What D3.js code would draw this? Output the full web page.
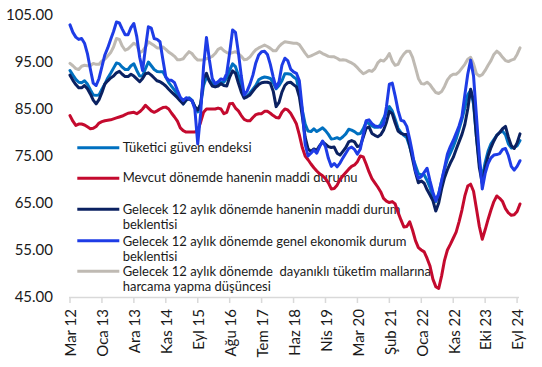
<!DOCTYPE html>
<html>
<head>
<meta charset="utf-8">
<script src="https://cdn.jsdelivr.net/npm/d3@7"></script>
<style>
  html, body { margin: 0; padding: 0; background: #fff; }
  svg { display: block; }
  text { font-family: Lato, "Open Sans", sans-serif; }
</style>
</head>
<body>
<svg id="chart" width="542" height="367"></svg>
<script>
// ---- data ----
const tickLabels = ["Mar 12","Oca 13","Ara 13","Kas 14","Eyl 15","Ağu 16","Tem 17","Haz 18","Nis 19","Mar 20","Şub 21","Oca 22","Kas 22","Eki 23","Eyl 24"];
const yTicks = [105, 95, 85, 75, 65, 55, 45];

const seriesNames = [
  ["Tüketici güven endeksi"],
  ["Mevcut dönemde hanenin maddi durumu"],
  ["Gelecek 12 aylık dönemde hanenin maddi durum", "beklentisi"],
  ["Gelecek 12 aylık dönemde genel ekonomik durum", "beklentisi"],
  ["Gelecek 12 aylık dönemde  dayanıklı tüketim mallarına", "harcama yapma düşüncesi"]
];
const seriesColors = ["#0070C0", "#C40A2E", "#0B2161", "#1E3CE6", "#BFBAB3"];

const tuketici = [
93.2,92.2,91.3,90.7,90.6,91.0,90.3,89.1,88.0,87.9,
88.0,89.2,90.3,91.6,92.6,93.7,94.8,94.6,93.9,93.4,
93.4,94.2,94.6,93.2,92.0,92.0,93.6,95.0,94.2,93.4,
93.0,92.9,92.9,91.8,90.6,89.8,89.0,88.1,87.2,86.1,
86.8,87.4,86.9,85.5,84.4,86.0,90.0,91.8,91.1,90.5,
90.0,90.4,90.7,90.7,91.6,93.3,94.6,94.0,92.2,89.7,
87.4,87.8,88.4,89.2,90.0,91.2,91.6,91.8,91.7,91.5,
90.6,89.3,90.0,91.0,92.5,92.5,92.4,91.8,91.4,88.5,
84.8,81.8,80.3,80.2,80.8,80.2,80.6,81.0,80.4,79.6,
78.6,78.7,78.9,78.6,79.1,79.7,80.7,80.5,80.2,79.7,
79.8,80.8,82.2,81.9,81.4,81.1,81.1,81.7,83.0,84.2,
85.5,84.6,82.8,80.9,80.0,79.4,78.9,77.0,74.8,73.0,
71.2,71.0,71.0,69.8,68.3,66.5,65.3,67.0,69.6,72.2,
74.3,75.6,77.0,78.6,80.7,82.8,85.3,88.0,89.0,86.0,
79.0,73.5,70.4,73.6,76.0,77.6,78.5,79.4,80.0,80.3,
79.5,77.6,76.7,76.8,77.2,78.3];

const mevcut = [
83.6,82.4,81.5,81.8,81.8,81.6,81.2,80.8,80.9,81.3,
82.0,82.3,82.5,82.6,82.7,82.9,83.1,83.3,83.5,83.8,
84.1,84.2,84.3,84.0,84.4,85.0,85.8,85.2,84.6,84.3,
84.6,85.0,85.3,85.4,85.0,84.1,83.3,82.4,81.0,80.4,
80.1,80.1,80.1,80.1,80.5,82.2,84.3,85.0,85.0,85.0,
85.0,85.2,85.0,84.0,84.3,86.1,86.2,85.2,84.6,83.6,
82.8,82.5,82.5,83.2,83.8,84.0,84.0,84.5,84.5,84.1,
83.6,83.2,83.1,84.3,85.0,84.8,84.1,83.0,81.8,79.5,
76.8,75.0,74.2,73.3,72.5,71.8,71.2,70.8,70.2,69.3,
68.0,68.1,68.8,70.0,70.8,71.5,72.2,72.8,73.1,73.8,
75.0,74.8,73.3,71.6,70.2,69.3,68.4,67.4,66.0,65.4,
65.1,65.3,64.8,63.0,61.4,59.9,60.0,61.0,59.2,57.0,
55.5,55.0,54.6,53.2,51.6,48.8,47.2,46.8,49.5,52.8,
55.0,56.2,57.5,58.8,61.0,63.5,66.5,68.6,69.0,67.5,
63.8,60.0,57.3,59.3,61.5,63.5,65.3,66.5,66.0,65.3,
63.8,62.9,62.4,62.5,63.2,64.8];

const haneBeklenti = [
92.2,91.1,90.2,89.5,89.5,90.0,89.3,88.2,86.9,86.1,
87.0,88.5,90.3,91.0,91.6,92.0,92.7,93.0,92.4,91.9,
91.9,92.4,92.0,91.4,90.8,91.5,92.5,92.7,92.2,91.6,
91.0,90.8,90.4,89.9,89.2,88.6,88.0,87.4,86.7,86.1,
87.0,87.1,86.8,85.5,84.8,86.0,91.5,92.6,90.9,89.9,
89.7,89.9,90.4,90.0,89.9,91.8,93.1,92.6,90.5,88.6,
87.3,87.6,88.0,88.8,89.6,90.2,90.6,90.7,90.7,90.5,
88.8,85.5,86.4,88.6,90.0,90.6,90.7,90.2,89.7,87.6,
83.5,79.0,76.5,76.0,76.5,76.2,77.2,78.0,77.5,77.0,
76.8,76.9,75.6,75.2,76.0,76.8,78.0,78.3,78.0,77.0,
77.2,79.0,80.9,81.2,79.8,79.4,79.1,79.5,80.5,82.2,
84.5,84.0,82.0,80.3,79.8,79.6,79.6,77.3,74.3,71.5,
69.3,69.7,69.2,67.8,66.7,65.5,63.3,65.0,68.0,70.4,
72.1,73.5,74.7,76.4,78.0,79.6,81.7,85.0,89.2,86.8,
79.0,72.5,69.2,72.5,75.0,76.8,78.2,79.4,80.0,80.8,
81.3,79.0,77.2,76.6,77.8,79.7];

const genelBeklenti = [
102.9,101.3,100.3,99.8,100.0,99.0,96.8,93.5,90.5,90.0,
91.5,94.0,96.5,98.0,99.8,101.5,103.5,103.3,102.0,100.8,
100.8,102.3,103.2,100.4,96.0,93.2,98.0,102.5,102.2,100.0,
99.8,99.3,95.5,91.8,91.1,91.1,90.6,89.0,87.5,86.8,
87.4,87.2,86.8,85.0,77.6,84.0,94.0,100.2,95.5,91.5,
90.4,90.8,91.4,91.2,92.6,97.0,101.8,101.3,97.0,92.0,
88.0,88.8,90.3,92.2,94.8,96.5,97.2,97.3,96.6,94.5,
91.8,89.5,90.8,94.3,95.8,95.3,93.5,92.9,92.6,91.0,
85.0,77.5,75.0,75.6,76.3,75.6,77.0,78.2,77.0,74.5,
72.8,73.4,72.7,73.5,74.6,75.6,76.6,76.9,76.4,75.4,
76.5,79.5,82.5,82.7,81.9,81.4,81.3,81.1,81.8,85.5,
90.3,90.5,87.8,84.7,82.6,82.4,81.3,78.6,75.5,71.8,
70.2,70.6,71.5,72.4,69.7,67.3,65.5,66.9,69.8,72.5,
75.4,77.0,78.3,79.8,81.4,83.4,88.0,92.4,95.4,92.0,
83.5,75.0,68.0,71.3,73.4,74.6,75.2,75.3,75.5,76.4,
76.6,75.1,72.8,72.0,72.8,74.0];

const dayanikli = [
94.7,94.2,93.6,93.4,94.1,94.3,94.2,94.2,94.7,94.5,
94.5,95.2,95.6,96.3,97.0,98.2,100.0,99.8,98.4,97.5,
97.8,98.4,99.0,98.6,97.0,97.3,98.2,99.3,98.9,98.5,
98.0,98.0,98.2,97.7,97.1,96.7,96.2,95.5,95.5,95.7,
96.5,97.2,96.8,96.0,95.4,95.4,95.5,95.7,95.9,96.2,
96.8,97.7,98.0,97.4,97.0,96.8,97.0,97.2,96.8,96.2,
95.5,95.6,96.1,96.9,97.6,98.0,98.3,98.6,98.3,97.9,
97.4,97.4,98.3,98.9,99.3,99.2,99.1,99.0,99.0,98.7,
97.8,96.9,96.1,96.3,96.6,96.9,97.2,96.8,96.5,96.2,
96.1,96.1,95.8,95.4,95.5,95.4,95.1,94.8,94.4,93.8,
93.1,92.5,92.8,93.2,93.0,93.6,94.8,95.4,95.2,95.8,
96.8,95.2,94.3,94.5,95.8,96.7,97.3,97.3,96.0,93.8,
91.5,90.4,90.3,90.7,90.2,89.3,88.5,88.3,88.7,89.8,
91.2,92.0,92.4,92.4,92.9,93.7,94.5,95.6,96.0,94.6,
92.5,92.0,92.3,93.2,94.3,95.3,96.6,97.3,96.8,96.0,
95.3,95.1,95.4,95.6,96.6,98.0];

const seriesValues = [tuketici, mevcut, haneBeklenti, genelBeklenti, dayanikli];
const tickEvery = 11;

// ---- layout ----
const svg = d3.select("#chart");
svg.append("rect").attr("width", 542).attr("height", 367).attr("fill", "#fff");

const nPts = tuketici.length;
const x = d3.scaleLinear().domain([0, nPts - 1]).range([70, 520]);
const y = d3.scaleLinear().domain([45, 105]).range([297, 15]);

// y labels
svg.append("g").selectAll("text").data(yTicks).join("text")
  .attr("x", 53).attr("y", d => y(d)).attr("dy", "0.36em")
  .attr("text-anchor", "end")
  .attr("font-size", 15).attr("fill", "#1a1a1a")
  .text(d => d3.format(".2f")(d));

// x axis
const axisY = 297.5;
const xg = svg.append("g");
xg.append("line").attr("x1", 69).attr("x2", 519).attr("y1", axisY).attr("y2", axisY)
  .attr("stroke", "#d9d9d9").attr("stroke-width", 1.5);
const tickIdx = tickLabels.map((_, i) => i * tickEvery);
xg.selectAll("line.tick").data(tickIdx).join("line").attr("class", "tick")
  .attr("x1", d => x(d)).attr("x2", d => x(d))
  .attr("y1", axisY).attr("y2", axisY + 5.5)
  .attr("stroke", "#d9d9d9").attr("stroke-width", 1.5);
xg.selectAll("text").data(tickLabels).join("text")
  .attr("transform", (d, i) => `translate(${x(tickIdx[i])},309) rotate(-90)`)
  .attr("text-anchor", "end").attr("dy", "0.42em")
  .attr("font-size", 15).attr("fill", "#1a1a1a")
  .text(d => d);

// legend (drawn beneath lines)
const legendRows = [
  { line: 147.7, base: [151.6] },
  { line: 178.3, base: [182.4] },
  { line: 209.2, base: [214.0, 229.0] },
  { line: 240.7, base: [245.8, 260.5] },
  { line: 271.2, base: [276.0, 291.2] }
];
const lg = svg.append("g");
seriesNames.forEach((names, i) => {
  lg.append("line").attr("x1", 77.3).attr("x2", 119.3)
    .attr("y1", legendRows[i].line).attr("y2", legendRows[i].line)
    .attr("stroke", seriesColors[i]).attr("stroke-width", 3);
  names.forEach((t, j) => {
    lg.append("text").attr("x", 122.7).attr("y", legendRows[i].base[j])
      .attr("font-size", 13).attr("fill", "#1a1a1a")
      .style("white-space", "pre")
      .text(t);
  });
});

// lines
const line = d3.line().x((d, i) => x(i)).y(d => y(d));
const drawOrder = [4, 1, 0, 2, 3];
svg.append("g").selectAll("path").data(drawOrder).join("path")
  .attr("d", i => line(seriesValues[i]))
  .attr("fill", "none")
  .attr("stroke", i => seriesColors[i])
  .attr("stroke-width", 3)
  .attr("stroke-linejoin", "round")
  .attr("stroke-linecap", "round");
</script>
</body>
</html>
